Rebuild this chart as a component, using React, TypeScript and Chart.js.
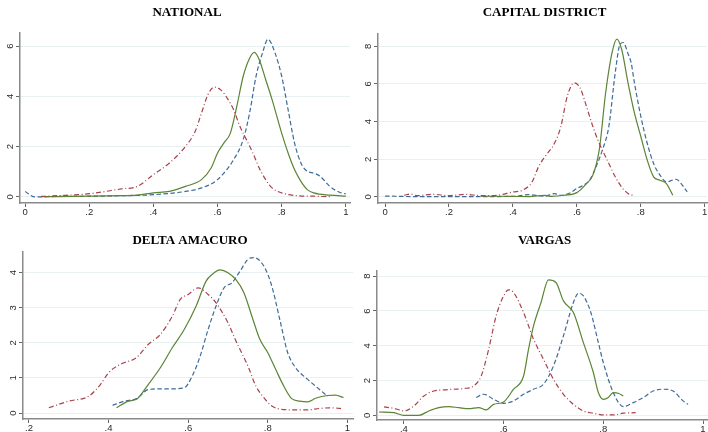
import React, { useEffect, useRef } from "react";
import { Chart, registerables } from "chart.js";
Chart.register(...registerables);

// ---------- DATA ----------
const panelTitles = ["NATIONAL", "CAPITAL DISTRICT", "DELTA AMACURO", "VARGAS"];

const nationalXTicks = [0, 0.2, 0.4, 0.6, 0.8, 1];
const nationalYTicks = [0, 2, 4, 6];
const capitalXTicks = [0, 0.2, 0.4, 0.6, 0.8, 1];
const capitalYTicks = [0, 2, 4, 6, 8];
const deltaXTicks = [0.2, 0.4, 0.6, 0.8, 1];
const deltaYTicks = [0, 1, 2, 3, 4];
const vargasXTicks = [0.4, 0.6, 0.8, 1];
const vargasYTicks = [0, 2, 4, 6, 8];

// [x, density]
const nationalRed = [
  [0.05, 0.02], [0.1, 0.05], [0.2, 0.13], [0.3, 0.32], [0.35, 0.42], [0.4, 0.89], [0.45, 1.35],
  [0.5, 2.01], [0.53, 2.6], [0.55, 3.34], [0.57, 4.07], [0.59, 4.37], [0.61, 4.26], [0.63, 3.93],
  [0.65, 3.47], [0.67, 2.8], [0.69, 2.28], [0.71, 1.75], [0.73, 1.15], [0.75, 0.69], [0.77, 0.36],
  [0.8, 0.16], [0.85, 0.05], [0.9, 0.03], [0.95, 0.01],
];
const nationalGreen = [
  [0.05, 0.01], [0.2, 0.03], [0.3, 0.05], [0.35, 0.07], [0.4, 0.16], [0.45, 0.22], [0.5, 0.42],
  [0.55, 0.69], [0.58, 1.15], [0.6, 1.75], [0.62, 2.15], [0.64, 2.54], [0.66, 3.6], [0.68, 4.8],
  [0.7, 5.52], [0.715, 5.75], [0.73, 5.46], [0.75, 4.67], [0.77, 3.87], [0.8, 2.54], [0.82, 1.75],
  [0.84, 1.09], [0.86, 0.62], [0.88, 0.29], [0.9, 0.16], [0.95, 0.07], [1.0, 0.03],
];
const nationalBlue = [
  [0.0, 0.22], [0.03, 0.0], [0.1, 0.02], [0.2, 0.03], [0.3, 0.05], [0.4, 0.09], [0.5, 0.22],
  [0.55, 0.36], [0.6, 0.69], [0.65, 1.48], [0.68, 2.28], [0.7, 3.34], [0.72, 4.8], [0.74, 5.72],
  [0.757, 6.27], [0.78, 5.7], [0.8, 4.8], [0.82, 3.47], [0.84, 2.15], [0.86, 1.35], [0.88, 1.02],
  [0.9, 0.95], [0.92, 0.82], [0.95, 0.42], [0.98, 0.19], [1.0, 0.12],
];

const capitalRed = [
  [0.06, 0.09], [0.08, 0.16], [0.1, 0.07], [0.15, 0.14], [0.2, 0.07], [0.25, 0.14], [0.3, 0.07],
  [0.35, 0.09], [0.4, 0.27], [0.43, 0.36], [0.46, 0.8], [0.48, 1.6], [0.5, 2.14], [0.53, 2.85],
  [0.55, 3.74], [0.57, 5.35], [0.592, 6.06], [0.61, 5.79], [0.63, 4.81], [0.65, 3.74], [0.67, 2.85],
  [0.7, 1.78], [0.72, 1.07], [0.74, 0.53], [0.76, 0.18], [0.775, 0.09],
];
const capitalGreen = [
  [0.3, 0.04], [0.4, 0.03], [0.45, 0.02], [0.5, 0.09], [0.52, 0.03], [0.56, 0.09], [0.6, 0.23],
  [0.63, 0.71], [0.65, 1.16], [0.67, 2.5], [0.69, 5.53], [0.71, 7.66], [0.725, 8.38], [0.74, 7.84],
  [0.76, 6.06], [0.78, 4.46], [0.8, 3.21], [0.82, 1.96], [0.84, 1.07], [0.86, 0.89], [0.88, 0.71],
  [0.9, 0.09],
];
const capitalBlue = [
  [0.0, 0.05], [0.1, 0.02], [0.2, 0.02], [0.3, 0.02], [0.4, 0.03], [0.45, 0.12], [0.5, 0.04],
  [0.53, 0.18], [0.55, 0.09], [0.58, 0.23], [0.6, 0.45], [0.62, 0.62], [0.64, 0.9], [0.66, 1.6],
  [0.68, 2.5], [0.7, 3.74], [0.72, 6.6], [0.735, 8.1], [0.745, 8.2], [0.76, 7.6], [0.77, 7.1],
  [0.78, 6.06], [0.8, 4.28], [0.82, 2.85], [0.84, 1.78], [0.86, 1.16], [0.88, 0.8], [0.9, 0.9],
  [0.91, 0.94], [0.93, 0.62], [0.945, 0.27],
];

const deltaRed = [
  [0.25, 0.15], [0.3, 0.34], [0.35, 0.48], [0.38, 0.82], [0.4, 1.15], [0.43, 1.39], [0.47, 1.58],
  [0.5, 1.96], [0.53, 2.24], [0.56, 2.76], [0.58, 3.24], [0.6, 3.38], [0.625, 3.57], [0.65, 3.38],
  [0.67, 3.14], [0.7, 2.57], [0.72, 2.05], [0.75, 1.34], [0.77, 0.77], [0.79, 0.44], [0.81, 0.2],
  [0.84, 0.1], [0.87, 0.09], [0.9, 0.09], [0.93, 0.13], [0.96, 0.15], [0.99, 0.12],
];
const deltaGreen = [
  [0.42, 0.15], [0.45, 0.34], [0.47, 0.39], [0.5, 0.82], [0.53, 1.29], [0.56, 1.86], [0.59, 2.38],
  [0.62, 3.05], [0.645, 3.76], [0.66, 3.95], [0.68, 4.08], [0.7, 4.0], [0.72, 3.8], [0.74, 3.43],
  [0.76, 2.76], [0.78, 2.1], [0.8, 1.72], [0.82, 1.24], [0.84, 0.77], [0.86, 0.41], [0.88, 0.34],
  [0.9, 0.32], [0.92, 0.42], [0.95, 0.5], [0.97, 0.51], [0.99, 0.44],
];
const deltaBlue = [
  [0.41, 0.22], [0.44, 0.34], [0.47, 0.41], [0.5, 0.67], [0.53, 0.69], [0.56, 0.69], [0.59, 0.72],
  [0.61, 1.05], [0.63, 1.62], [0.65, 2.38], [0.67, 3.05], [0.69, 3.57], [0.71, 3.71], [0.73, 4.04],
  [0.75, 4.38], [0.765, 4.43], [0.79, 4.19], [0.81, 3.62], [0.83, 2.67], [0.85, 1.72], [0.87, 1.29],
  [0.9, 0.96], [0.93, 0.67], [0.95, 0.48],
];

const vargasRed = [
  [0.36, 0.48], [0.38, 0.4], [0.4, 0.25], [0.42, 0.54], [0.44, 1.11], [0.46, 1.4], [0.48, 1.46],
  [0.5, 1.5], [0.52, 1.54], [0.54, 1.69], [0.555, 2.26], [0.57, 3.8], [0.585, 5.72], [0.6, 6.87],
  [0.61, 7.22], [0.62, 7.06], [0.64, 5.91], [0.66, 4.38], [0.68, 3.22], [0.7, 2.07], [0.72, 1.21],
  [0.74, 0.63], [0.76, 0.25], [0.78, 0.12], [0.8, 0.02], [0.82, 0.02], [0.84, 0.12], [0.865, 0.15],
];
const vargasGreen = [
  [0.35, 0.19], [0.38, 0.15], [0.4, 0.0], [0.43, 0.0], [0.45, 0.25], [0.47, 0.44], [0.49, 0.5],
  [0.51, 0.44], [0.53, 0.38], [0.55, 0.44], [0.565, 0.31], [0.58, 0.63], [0.6, 0.77], [0.62, 1.5],
  [0.64, 2.26], [0.65, 3.8], [0.66, 5.14], [0.675, 6.49], [0.69, 7.79], [0.705, 7.64], [0.72, 6.58],
  [0.74, 5.91], [0.76, 4.18], [0.78, 2.46], [0.79, 1.31], [0.8, 0.92], [0.81, 1.02], [0.82, 1.31],
  [0.83, 1.27], [0.84, 1.11],
];
const vargasBlue = [
  [0.545, 1.02], [0.56, 1.21], [0.58, 0.92], [0.6, 0.69], [0.62, 0.83], [0.64, 1.21], [0.66, 1.5],
  [0.68, 1.79], [0.7, 2.84], [0.72, 4.57], [0.74, 6.49], [0.75, 7.02], [0.76, 6.87], [0.775, 5.91],
  [0.79, 4.18], [0.8, 3.03], [0.82, 1.31], [0.84, 0.5], [0.86, 0.73], [0.88, 1.02], [0.9, 1.4],
  [0.92, 1.5], [0.94, 1.4], [0.96, 0.83], [0.97, 0.63],
];

// ---------- STYLE / LAYOUT ----------
const RED = "#a8424c";
const GREEN = "#5b8434";
const BLUE = "#3e6b98";

type Panel = {
  title: string;
  red: number[][]; green: number[][]; blue: number[][];
  xTicks: number[]; yTicks: number[];
  xMin: number; xMax: number; yMin: number; yMax: number;
  left: number; top: number; width: number; height: number;
  areaL: number; areaR: number; areaT: number; areaB: number; titleY: number;
};

const panels: Panel[] = [
  { title: panelTitles[0], red: nationalRed, green: nationalGreen, blue: nationalBlue,
    xTicks: nationalXTicks, yTicks: nationalYTicks, xMin: -0.016, xMax: 1.013, yMin: -0.24, yMax: 6.52,
    left: 0, top: 0, width: 354, height: 216, areaL: 20, areaR: 350, areaT: 33, areaB: 203, titleY: 13 },
  { title: panelTitles[1], red: capitalRed, green: capitalGreen, blue: capitalBlue,
    xTicks: capitalXTicks, yTicks: capitalYTicks, xMin: -0.022, xMax: 1.007, yMin: -0.32, yMax: 8.65,
    left: 354, top: 0, width: 354, height: 216, areaL: 24, areaR: 353, areaT: 34, areaB: 203, titleY: 13 },
  { title: panelTitles[2], red: deltaRed, green: deltaGreen, blue: deltaBlue,
    xTicks: deltaXTicks, yTicks: deltaYTicks, xMin: 0.185, xMax: 1.014, yMin: -0.17, yMax: 4.59,
    left: 0, top: 216, width: 354, height: 216, areaL: 23, areaR: 353, areaT: 36, areaB: 203, titleY: 25 },
  { title: panelTitles[3], red: vargasRed, green: vargasGreen, blue: vargasBlue,
    xTicks: vargasXTicks, yTicks: vargasYTicks, xMin: 0.346, xMax: 1.01, yMin: -0.27, yMax: 8.3,
    left: 354, top: 216, width: 354, height: 216, areaL: 23, areaR: 354, areaT: 55, areaB: 204, titleY: 25 },
];

const fmtX = (v: number) => {
  if (Math.abs(v) < 1e-9) return "0";
  if (Math.abs(v - 1) < 1e-9) return "1";
  return "." + Math.round(v * 10);
};

function PanelChart({ p }: { p: Panel }) {
  const ref = useRef<HTMLCanvasElement | null>(null);
  useEffect(() => {
    if (!ref.current) return;
    const toPts = (a: number[][]) => a.map(([x, y]) => ({ x, y }));
    const common = {
      fill: false,
      pointRadius: 0,
      borderWidth: 1.2,
      cubicInterpolationMode: "monotone" as const,
    };
    const titlePlugin = {
      id: "panelTitle",
      afterDraw(chart: any) {
        const { ctx, chartArea } = chart;
        ctx.save();
        ctx.font = 'bold 13px "Liberation Serif", "Times New Roman", serif';
        ctx.fillStyle = "#000";
        ctx.textAlign = "center";
        ctx.textBaseline = "middle";
        ctx.fillText(p.title, (chartArea.left + chartArea.right) / 2 + 2, p.titleY);
        ctx.restore();
      },
    };
    const chart = new Chart(ref.current, {
      type: "line",
      data: {
        datasets: [
          { ...common, label: "red", data: toPts(p.red), borderColor: RED, borderDash: [5, 2.5, 1, 2.5] },
          { ...common, label: "green", data: toPts(p.green), borderColor: GREEN },
          { ...common, label: "blue", data: toPts(p.blue), borderColor: BLUE, borderDash: [4.5, 2.5] },
        ],
      },
      options: {
        animation: false,
        responsive: false,
        devicePixelRatio: 1,
        layout: { padding: { left: 0, top: p.areaT, right: p.width - p.areaR, bottom: 0 } },
        plugins: { legend: { display: false }, title: { display: false }, tooltip: { enabled: false } },
        scales: {
          x: {
            type: "linear",
            min: p.xMin,
            max: p.xMax,
            afterFit: (s: any) => { s.height = p.height - p.areaB; },
            afterBuildTicks: (s: any) => { s.ticks = p.xTicks.map((v) => ({ value: v })); },
            grid: { display: true, drawOnChartArea: false, tickLength: 4, tickColor: "#666", tickWidth: 1 },
            border: { display: true, color: "#8a8a8a", width: 1.5 },
            ticks: {
              padding: 0,
              color: "#2a2a2a",
              font: { family: '"Liberation Sans", Arial, sans-serif', size: 9.5 },
              maxRotation: 0,
              minRotation: 0,
              autoSkip: false,
              callback: (v: any) => fmtX(Number(v)),
            },
          },
          y: {
            type: "linear",
            min: p.yMin,
            max: p.yMax,
            afterFit: (s: any) => { s.width = p.areaL; },
            afterBuildTicks: (s: any) => { s.ticks = p.yTicks.map((v) => ({ value: v })); },
            grid: { display: true, drawOnChartArea: true, color: "#e8f1f1", lineWidth: 1, tickLength: 4, tickColor: "#666", tickWidth: 1 },
            border: { display: true, color: "#8a8a8a", width: 1.5 },
            ticks: {
              padding: 3,
              color: "#2a2a2a",
              font: { family: '"Liberation Sans", Arial, sans-serif', size: 9.5 },
              minRotation: 90,
              maxRotation: 90,
              crossAlign: "center",
              autoSkip: false,
              callback: (v: any) => String(v),
            },
          },
        },
      },
      plugins: [titlePlugin],
    } as any);
    return () => chart.destroy();
  }, [p]);
  return (
    <canvas
      ref={ref}
      width={p.width}
      height={p.height}
      style={{ position: "absolute", left: p.left, top: p.top, width: p.width, height: p.height }}
    />
  );
}

export default function App() {
  return (
    <div style={{ position: "fixed", left: 0, top: 0, width: 708, height: 432, background: "#fff" }}>
      {panels.map((p) => (
        <PanelChart key={p.title} p={p} />
      ))}
    </div>
  );
}
